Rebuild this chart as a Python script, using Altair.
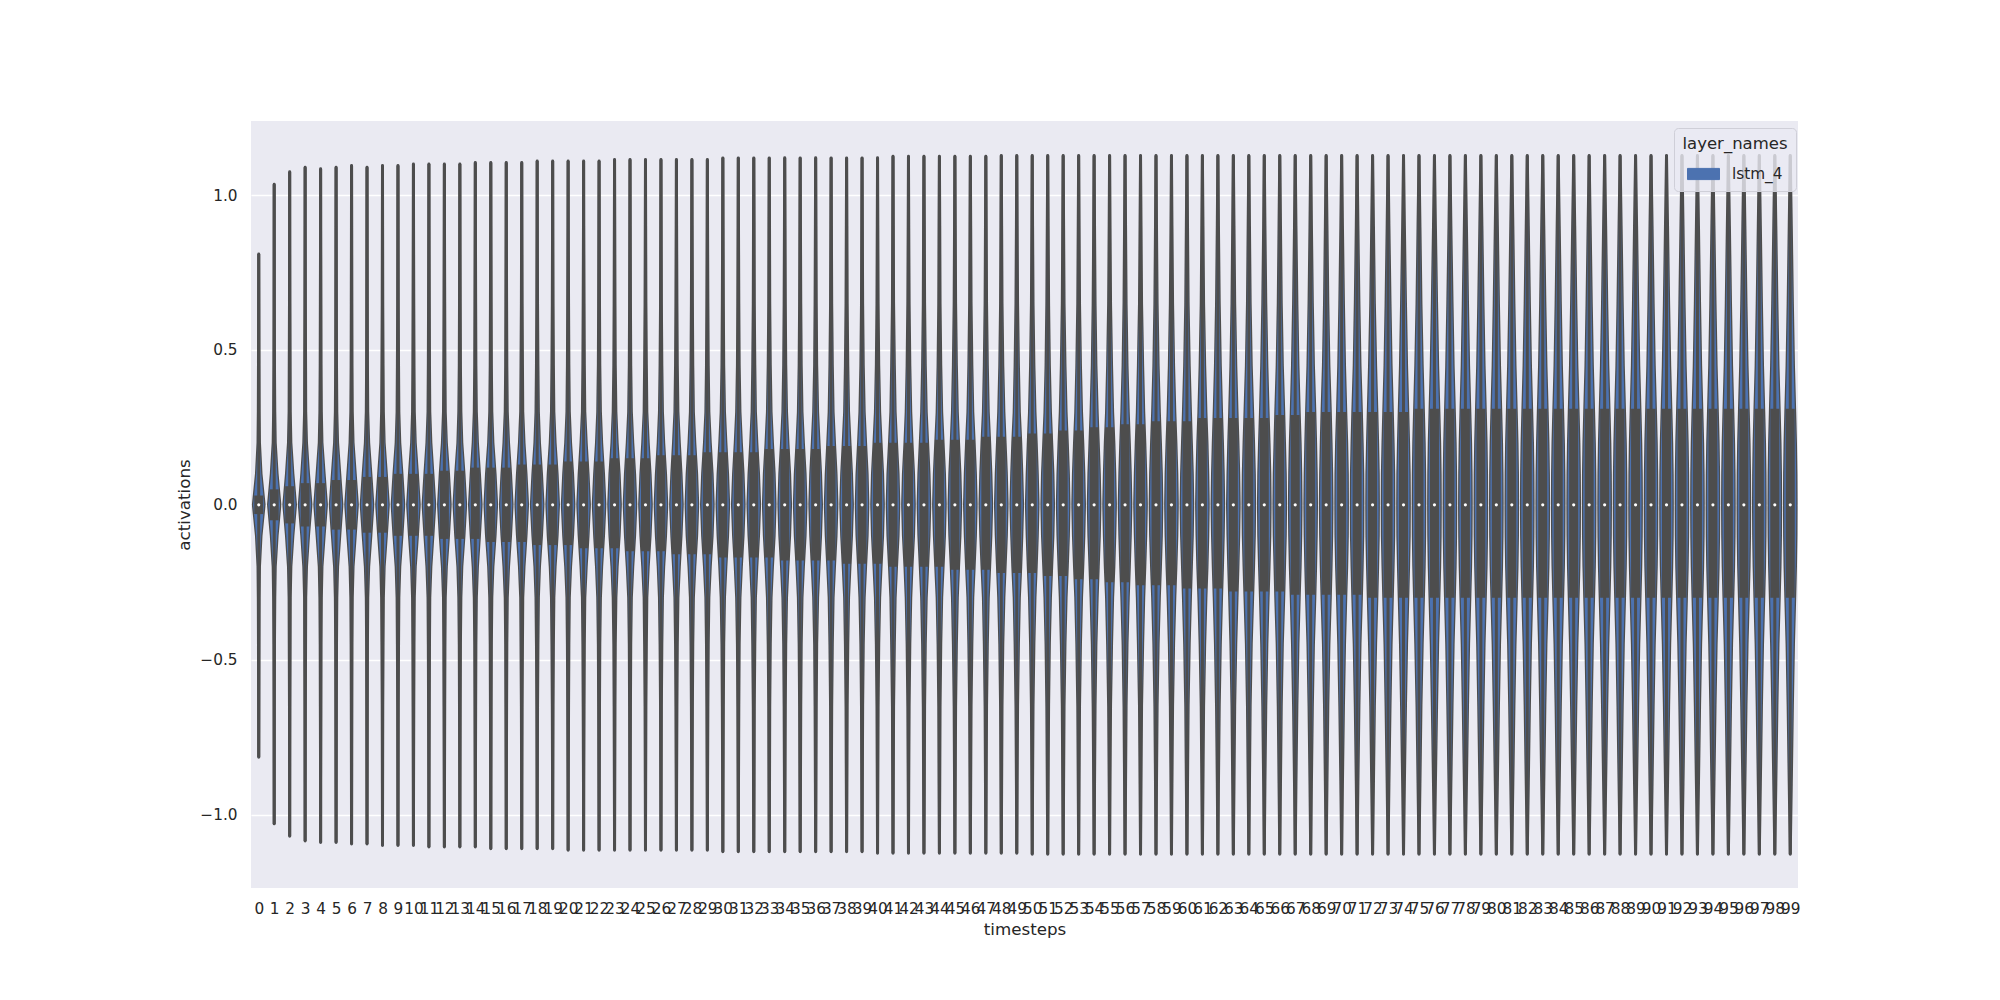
import altair as alt
import pandas as pd

timesteps = list(range(100))
layer_name = "lstm_4"

# upper / lower extent of each violin (activation units)
top = [
    0.81, 1.035, 1.075, 1.09, 1.085, 1.09, 1.095, 1.09, 1.095, 1.095,
    1.10, 1.10, 1.10, 1.10, 1.105, 1.105, 1.105, 1.105, 1.11, 1.11,
    1.11, 1.11, 1.11, 1.115, 1.115, 1.115, 1.115, 1.115, 1.115, 1.115,
    1.12, 1.12, 1.12, 1.12, 1.12, 1.12, 1.12, 1.12, 1.12, 1.12,
    1.12, 1.125, 1.125, 1.125, 1.125, 1.125, 1.125, 1.125, 1.128, 1.128,
    1.128, 1.128, 1.128, 1.128, 1.128, 1.128, 1.128, 1.128, 1.128, 1.128,
    1.128, 1.128, 1.128, 1.128, 1.128, 1.128, 1.128, 1.128, 1.128, 1.128,
    1.128, 1.128, 1.128, 1.128, 1.128, 1.128, 1.128, 1.128, 1.128, 1.128,
    1.128, 1.128, 1.128, 1.128, 1.128, 1.128, 1.128, 1.128, 1.128, 1.128,
    1.128, 1.128, 1.128, 1.128, 1.128, 1.128, 1.128, 1.128, 1.128, 1.128,
]
bottom = [
    -0.815, -1.03, -1.07, -1.085, -1.09, -1.09, -1.095, -1.095, -1.10, -1.10,
    -1.10, -1.105, -1.105, -1.105, -1.105, -1.11, -1.11, -1.11, -1.11, -1.11,
    -1.115, -1.115, -1.115, -1.115, -1.115, -1.115, -1.115, -1.115, -1.115, -1.115,
    -1.12, -1.12, -1.12, -1.12, -1.12, -1.12, -1.12, -1.12, -1.12, -1.12,
    -1.125, -1.125, -1.125, -1.125, -1.125, -1.125, -1.125, -1.125, -1.125, -1.125,
    -1.128, -1.128, -1.128, -1.128, -1.128, -1.128, -1.128, -1.128, -1.128, -1.128,
    -1.128, -1.128, -1.128, -1.128, -1.128, -1.128, -1.128, -1.128, -1.128, -1.128,
    -1.128, -1.128, -1.128, -1.128, -1.128, -1.128, -1.128, -1.128, -1.128, -1.128,
    -1.128, -1.128, -1.128, -1.128, -1.128, -1.128, -1.128, -1.128, -1.128, -1.128,
    -1.128, -1.128, -1.128, -1.128, -1.128, -1.128, -1.128, -1.128, -1.128, -1.128,
]
# inner box: quartiles
box_hi = [
    0.03, 0.05, 0.06, 0.07, 0.07, 0.08, 0.08, 0.09, 0.09, 0.10,
    0.10, 0.10, 0.11, 0.11, 0.12, 0.12, 0.12, 0.13, 0.13, 0.13,
    0.14, 0.14, 0.14, 0.15, 0.15, 0.15, 0.16, 0.16, 0.16, 0.17,
    0.17, 0.17, 0.17, 0.18, 0.18, 0.18, 0.18, 0.19, 0.19, 0.19,
    0.20, 0.20, 0.20, 0.20, 0.21, 0.21, 0.21, 0.22, 0.22, 0.22,
    0.23, 0.23, 0.24, 0.24, 0.25, 0.25, 0.26, 0.26, 0.27, 0.27,
    0.27, 0.28, 0.28, 0.28, 0.28, 0.28, 0.29, 0.29, 0.30, 0.30,
    0.30, 0.30, 0.30, 0.30, 0.30, 0.31, 0.31, 0.31, 0.31, 0.31,
    0.31, 0.31, 0.31, 0.31, 0.31, 0.31, 0.31, 0.31, 0.31, 0.31,
    0.31, 0.31, 0.31, 0.31, 0.31, 0.31, 0.31, 0.31, 0.31, 0.31,
]
box_lo = [
    -0.03, -0.05, -0.06, -0.07, -0.07, -0.08, -0.08, -0.09, -0.09, -0.10,
    -0.10, -0.10, -0.11, -0.11, -0.11, -0.12, -0.12, -0.12, -0.13, -0.13,
    -0.13, -0.14, -0.14, -0.14, -0.15, -0.15, -0.15, -0.16, -0.16, -0.16,
    -0.17, -0.17, -0.17, -0.17, -0.18, -0.18, -0.18, -0.18, -0.19, -0.19,
    -0.19, -0.20, -0.20, -0.20, -0.20, -0.21, -0.21, -0.21, -0.22, -0.22,
    -0.22, -0.23, -0.23, -0.24, -0.24, -0.25, -0.25, -0.26, -0.26, -0.26,
    -0.27, -0.27, -0.27, -0.28, -0.28, -0.28, -0.28, -0.29, -0.29, -0.29,
    -0.29, -0.29, -0.30, -0.30, -0.30, -0.30, -0.30, -0.30, -0.30, -0.30,
    -0.30, -0.30, -0.30, -0.30, -0.30, -0.30, -0.30, -0.30, -0.30, -0.30,
    -0.30, -0.30, -0.30, -0.30, -0.30, -0.30, -0.30, -0.30, -0.30, -0.30,
]
medians = [
    0.0, 0.0, 0.0, 0.0, 0.0, 0.0, 0.0, 0.0, 0.0, 0.0,
    0.0, 0.0, 0.0, 0.0, 0.0, 0.0, 0.0, 0.0, 0.0, 0.0,
    0.0, 0.0, 0.0, 0.0, 0.0, 0.0, 0.0, 0.0, 0.0, 0.0,
    0.0, 0.0, 0.0, 0.0, 0.0, 0.0, 0.0, 0.0, 0.0, 0.0,
    0.0, 0.0, 0.0, 0.0, 0.0, 0.0, 0.0, 0.0, 0.0, 0.0,
    0.0, 0.0, 0.0, 0.0, 0.0, 0.0, 0.0, 0.0, 0.0, 0.0,
    0.0, 0.0, 0.0, 0.0, 0.0, 0.0, 0.0, 0.0, 0.0, 0.0,
    0.0, 0.0, 0.0, 0.0, 0.0, 0.0, 0.0, 0.0, 0.0, 0.0,
    0.0, 0.0, 0.0, 0.0, 0.0, 0.0, 0.0, 0.0, 0.0, 0.0,
    0.0, 0.0, 0.0, 0.0, 0.0, 0.0, 0.0, 0.0, 0.0, 0.0,
]

# violin half-widths (fraction of a category slot) at |activation| levels
width_levels = [0.0, 0.1, 0.2, 0.3, 0.45, 0.65, 0.9]
w00 = [
    0.36, 0.38, 0.39, 0.39, 0.39, 0.39, 0.39, 0.39, 0.39, 0.39,
    0.39, 0.39, 0.39, 0.39, 0.39, 0.39, 0.39, 0.39, 0.39, 0.39,
    0.39, 0.39, 0.39, 0.39, 0.39, 0.39, 0.39, 0.39, 0.39, 0.39,
    0.39, 0.39, 0.39, 0.39, 0.39, 0.39, 0.39, 0.39, 0.39, 0.39,
    0.39, 0.39, 0.39, 0.39, 0.39, 0.39, 0.39, 0.39, 0.39, 0.39,
    0.39, 0.39, 0.39, 0.39, 0.39, 0.39, 0.39, 0.39, 0.39, 0.39,
    0.39, 0.39, 0.39, 0.39, 0.39, 0.39, 0.39, 0.39, 0.39, 0.39,
    0.39, 0.39, 0.39, 0.39, 0.39, 0.39, 0.39, 0.39, 0.39, 0.39,
    0.39, 0.39, 0.39, 0.39, 0.39, 0.39, 0.39, 0.39, 0.39, 0.39,
    0.39, 0.39, 0.39, 0.39, 0.39, 0.39, 0.39, 0.39, 0.39, 0.39,
]
w10 = [
    0.16, 0.20, 0.22, 0.23, 0.24, 0.25, 0.25, 0.26, 0.26, 0.27,
    0.27, 0.27, 0.28, 0.28, 0.28, 0.29, 0.29, 0.29, 0.29, 0.30,
    0.30, 0.30, 0.30, 0.31, 0.31, 0.31, 0.31, 0.31, 0.32, 0.32,
    0.32, 0.32, 0.32, 0.33, 0.33, 0.33, 0.33, 0.33, 0.33, 0.34,
    0.34, 0.34, 0.34, 0.34, 0.34, 0.34, 0.34, 0.34, 0.34, 0.34,
    0.34, 0.35, 0.35, 0.35, 0.35, 0.35, 0.35, 0.35, 0.36, 0.36,
    0.36, 0.36, 0.36, 0.36, 0.37, 0.37, 0.37, 0.37, 0.37, 0.37,
    0.38, 0.38, 0.38, 0.38, 0.38, 0.38, 0.38, 0.38, 0.38, 0.38,
    0.38, 0.38, 0.38, 0.38, 0.38, 0.38, 0.38, 0.38, 0.38, 0.38,
    0.38, 0.38, 0.38, 0.38, 0.38, 0.38, 0.38, 0.38, 0.38, 0.38,
]
w20 = [
    0.06, 0.08, 0.09, 0.10, 0.10, 0.11, 0.11, 0.12, 0.12, 0.13,
    0.13, 0.14, 0.14, 0.14, 0.15, 0.15, 0.16, 0.16, 0.16, 0.17,
    0.17, 0.18, 0.18, 0.18, 0.19, 0.19, 0.19, 0.20, 0.20, 0.20,
    0.21, 0.21, 0.21, 0.22, 0.22, 0.22, 0.23, 0.23, 0.23, 0.24,
    0.24, 0.24, 0.24, 0.25, 0.25, 0.25, 0.26, 0.26, 0.26, 0.27,
    0.27, 0.27, 0.28, 0.28, 0.28, 0.29, 0.29, 0.29, 0.30, 0.30,
    0.30, 0.31, 0.31, 0.31, 0.32, 0.32, 0.32, 0.33, 0.33, 0.33,
    0.34, 0.34, 0.34, 0.34, 0.34, 0.35, 0.35, 0.35, 0.35, 0.35,
    0.35, 0.35, 0.35, 0.35, 0.35, 0.35, 0.35, 0.35, 0.35, 0.35,
    0.35, 0.35, 0.35, 0.35, 0.35, 0.35, 0.35, 0.35, 0.35, 0.35,
]
w30 = [
    0.04, 0.05, 0.05, 0.05, 0.06, 0.06, 0.06, 0.06, 0.07, 0.07,
    0.07, 0.07, 0.07, 0.08, 0.08, 0.08, 0.08, 0.08, 0.09, 0.09,
    0.09, 0.09, 0.10, 0.10, 0.10, 0.10, 0.11, 0.11, 0.11, 0.11,
    0.12, 0.12, 0.12, 0.13, 0.13, 0.13, 0.14, 0.14, 0.14, 0.15,
    0.15, 0.15, 0.16, 0.16, 0.16, 0.17, 0.17, 0.17, 0.18, 0.18,
    0.19, 0.19, 0.20, 0.20, 0.21, 0.21, 0.22, 0.22, 0.23, 0.23,
    0.24, 0.24, 0.25, 0.25, 0.26, 0.26, 0.27, 0.27, 0.28, 0.28,
    0.28, 0.29, 0.29, 0.29, 0.29, 0.30, 0.30, 0.30, 0.30, 0.30,
    0.30, 0.30, 0.30, 0.30, 0.30, 0.30, 0.30, 0.30, 0.30, 0.30,
    0.30, 0.30, 0.30, 0.30, 0.30, 0.30, 0.30, 0.30, 0.30, 0.30,
]
w45 = [
    0.03, 0.03, 0.04, 0.04, 0.04, 0.04, 0.04, 0.04, 0.05, 0.05,
    0.05, 0.05, 0.05, 0.05, 0.05, 0.05, 0.05, 0.06, 0.06, 0.06,
    0.06, 0.06, 0.06, 0.06, 0.06, 0.07, 0.07, 0.07, 0.07, 0.07,
    0.07, 0.07, 0.08, 0.08, 0.08, 0.08, 0.08, 0.09, 0.09, 0.09,
    0.09, 0.10, 0.10, 0.10, 0.10, 0.11, 0.11, 0.11, 0.11, 0.12,
    0.12, 0.12, 0.13, 0.13, 0.13, 0.14, 0.14, 0.15, 0.15, 0.15,
    0.16, 0.16, 0.17, 0.17, 0.17, 0.18, 0.18, 0.19, 0.19, 0.19,
    0.20, 0.20, 0.21, 0.21, 0.21, 0.22, 0.22, 0.22, 0.22, 0.22,
    0.22, 0.22, 0.22, 0.22, 0.22, 0.22, 0.22, 0.22, 0.22, 0.22,
    0.22, 0.22, 0.22, 0.22, 0.22, 0.22, 0.22, 0.22, 0.22, 0.22,
]
w65 = [
    0.02, 0.02, 0.025, 0.025, 0.03, 0.03, 0.03, 0.03, 0.03, 0.03,
    0.035, 0.035, 0.035, 0.035, 0.035, 0.035, 0.035, 0.035, 0.035, 0.035,
    0.04, 0.04, 0.04, 0.04, 0.04, 0.04, 0.04, 0.045, 0.045, 0.045,
    0.045, 0.045, 0.045, 0.045, 0.05, 0.05, 0.05, 0.05, 0.05, 0.05,
    0.05, 0.05, 0.055, 0.055, 0.055, 0.06, 0.06, 0.06, 0.06, 0.065,
    0.065, 0.07, 0.07, 0.07, 0.075, 0.075, 0.08, 0.08, 0.085, 0.085,
    0.09, 0.09, 0.10, 0.10, 0.10, 0.11, 0.11, 0.12, 0.12, 0.12,
    0.13, 0.13, 0.13, 0.14, 0.14, 0.14, 0.15, 0.15, 0.15, 0.15,
    0.15, 0.15, 0.15, 0.15, 0.15, 0.15, 0.15, 0.15, 0.15, 0.15,
    0.15, 0.15, 0.15, 0.15, 0.15, 0.15, 0.15, 0.15, 0.15, 0.15,
]
w90 = [
    0.01, 0.015, 0.015, 0.015, 0.015, 0.02, 0.02, 0.02, 0.02, 0.02,
    0.02, 0.02, 0.02, 0.02, 0.02, 0.02, 0.02, 0.02, 0.02, 0.02,
    0.02, 0.02, 0.025, 0.025, 0.025, 0.025, 0.025, 0.025, 0.025, 0.025,
    0.025, 0.025, 0.03, 0.03, 0.03, 0.03, 0.03, 0.03, 0.03, 0.03,
    0.03, 0.03, 0.03, 0.035, 0.035, 0.035, 0.035, 0.035, 0.035, 0.035,
    0.035, 0.04, 0.04, 0.04, 0.04, 0.04, 0.045, 0.045, 0.045, 0.045,
    0.05, 0.05, 0.05, 0.055, 0.055, 0.055, 0.06, 0.06, 0.06, 0.065,
    0.065, 0.065, 0.07, 0.07, 0.07, 0.075, 0.075, 0.075, 0.08, 0.08,
    0.08, 0.08, 0.08, 0.08, 0.08, 0.08, 0.08, 0.08, 0.08, 0.08,
    0.08, 0.08, 0.08, 0.08, 0.08, 0.08, 0.08, 0.08, 0.08, 0.08,
]
tip_width = 0.012

SLOT_PX = 1547 / 100.0       # pixels per category slot
EDGE_PX = 2.6                # total extra width of the violin edge line

# ---- build tables from the arrays ----
width_table = [w00, w10, w20, w30, w45, w65, w90]
rows = []
for i, t in enumerate(timesteps):
    pts = [(bottom[i], tip_width)]
    for lvl, arr in reversed(list(zip(width_levels, width_table))):
        if lvl > 0 and lvl < abs(bottom[i]) - 0.03:
            pts.append((-lvl, arr[i]))
    pts.append((0.0, w00[i]))
    for lvl, arr in zip(width_levels, width_table):
        if lvl > 0 and lvl < top[i] - 0.03:
            pts.append((lvl, arr[i]))
    pts.append((top[i], tip_width))
    for k, (y, w) in enumerate(pts):
        rows.append({"t": t, "k": k, "act": y,
                     "inner": 2 * w * SLOT_PX,
                     "outer": 2 * w * SLOT_PX + EDGE_PX,
                     "layer_names": layer_name})
violin_df = pd.DataFrame(rows)

stats_df = pd.DataFrame({
    "t": timesteps, "top": top, "bottom": bottom,
    "q1": box_lo, "q3": box_hi, "median": medians,
})

DARK = "#4d4d4d"
BLUE = "#4c72b0"
TXT = "#262626"

xscale = alt.Scale(domain=[-0.5, 99.5], nice=False, zero=False)
yscale = alt.Scale(domain=[-1.237, 1.239], nice=False, zero=False)
size_scale = alt.Scale(type="linear", domain=[0, 20], range=[0, 20], zero=True, nice=False)

x_axis = alt.Axis(
    values=timesteps, labelAngle=0, grid=False, domain=False, ticks=False,
    labelOverlap=False, labelFlush=False, labelBound=False, labelPadding=13,
    title="timesteps", titlePadding=5, format="d",
)
y_axis = alt.Axis(
    values=[-1.0, -0.5, 0.0, 0.5, 1.0], format=".1f", grid=True,
    gridColor="white", gridWidth=1.4, domain=False, ticks=False,
    labelPadding=14, title="activations", titlePadding=6,
)

edge = alt.Chart(violin_df).mark_trail(color=DARK, opacity=1).encode(
    x=alt.X("t:Q", scale=xscale, axis=x_axis),
    y=alt.Y("act:Q", scale=yscale, axis=y_axis),
    size=alt.Size("outer:Q", scale=size_scale, legend=None),
    detail="t:N",
    order=alt.Order("k:Q"),
)

fill = alt.Chart(violin_df).mark_trail(opacity=1).encode(
    x=alt.X("t:Q", scale=xscale, axis=x_axis),
    y=alt.Y("act:Q", scale=yscale, axis=y_axis),
    size=alt.Size("inner:Q", scale=size_scale, legend=None),
    detail="t:N",
    order=alt.Order("k:Q"),
    color=alt.Color(
        "layer_names:N",
        scale=alt.Scale(range=[BLUE]),
        legend=alt.Legend(
            title="layer_names", orient="none", legendX=1423, legendY=7,
            symbolType="M-1,-0.35L1,-0.35L1,0.35L-1,0.35Z", symbolSize=1024,
            symbolStrokeColor="#3a3a3a", symbolStrokeWidth=1.0,
            symbolFillColor=BLUE, symbolOpacity=1,
            labelOffset=12, padding=8, titlePadding=5,
            fillColor="rgba(234,234,242,0.8)", strokeColor="#cfcfd8",
            cornerRadius=4, titleAnchor="middle",
            titleFontSize=16.5, labelFontSize=15.3,
            titleFontWeight="normal", titleColor=TXT, labelColor=TXT,
            titleFont="DejaVu Sans", labelFont="DejaVu Sans",
        ),
    ),
)

whiskers = alt.Chart(stats_df).mark_rule(color=DARK, strokeWidth=3.0).encode(
    x=alt.X("t:Q", scale=xscale, axis=x_axis),
    y=alt.Y("bottom:Q", scale=yscale, axis=y_axis),
    y2="top:Q",
)
boxes = alt.Chart(stats_df).mark_rule(color=DARK, strokeWidth=9.0).encode(
    x=alt.X("t:Q", scale=xscale, axis=x_axis),
    y=alt.Y("q1:Q", scale=yscale, axis=y_axis),
    y2="q3:Q",
)
med = alt.Chart(stats_df).mark_circle(color="white", size=10, opacity=1).encode(
    x=alt.X("t:Q", scale=xscale, axis=x_axis),
    y=alt.Y("median:Q", scale=yscale, axis=y_axis),
)

chart = alt.layer(edge, fill, whiskers, boxes, med).properties(
    width=1547, height=767,
    autosize=alt.AutoSizeParams(type="none"),
    padding={"left": 251, "top": 121, "right": 202, "bottom": 112},
    background="white",
).configure_view(
    fill="#EAEAF2", strokeWidth=0,
).configure_axis(
    labelFont="DejaVu Sans", titleFont="DejaVu Sans",
    labelFontSize=15.3, titleFontSize=16.7, titleFontWeight="normal",
    labelColor=TXT, titleColor=TXT,
)

chart.save("out.html", embed_options={"renderer": "svg", "actions": False})
